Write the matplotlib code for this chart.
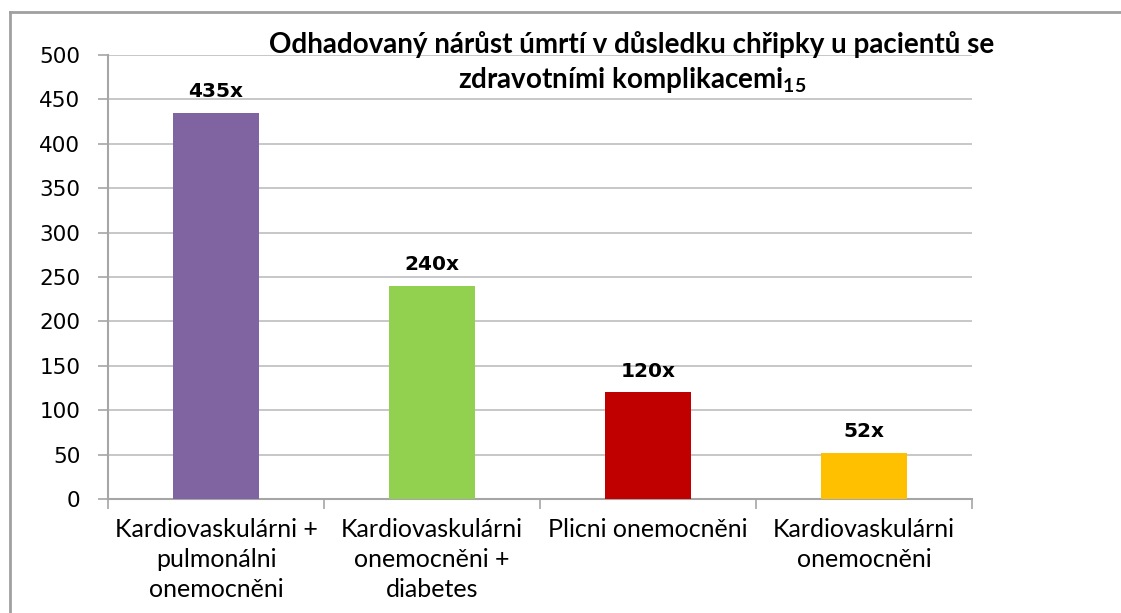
import matplotlib
matplotlib.use("Agg")
import matplotlib.pyplot as plt
from matplotlib.lines import Line2D

categories = ["Kardiovaskulárni +\npulmonálni\nonemocněni",
              "Kardiovaskulárni\nonemocněni +\ndiabetes",
              "Plicni onemocněni",
              "Kardiovaskulárni\nonemocněni"]
values = [435, 240, 120, 52]
labels = ["435x", "240x", "120x", "52x"]
colors = ["#8064A2", "#92D050", "#C00000", "#FFC000"]

plt.rcParams["mathtext.default"] = "regular"

fig = plt.figure(figsize=(11.21, 6.13), dpi=100)
ax = fig.add_axes([108/1121, 1-499/613, (972-108)/1121, (499-55)/613])

x = list(range(len(values)))
ax.bar(x, values, width=0.4, color=colors, zorder=3)
ax.set_xlim(-0.5, 3.5)
ax.set_ylim(0, 500)
ax.set_yticks(range(0, 501, 50))
ax.yaxis.grid(True, color="#BEBEBE", lw=1.2, zorder=0)

for xi, v, lab in zip(x, values, labels):
    ax.text(xi, v + 13, lab, ha="center", va="bottom", fontsize=14.5,
            fontweight="bold", family="DejaVu Sans")

for s in ["top", "right"]:
    ax.spines[s].set_visible(False)
for s in ["left", "bottom"]:
    ax.spines[s].set_color("#A6A6A6")
    ax.spines[s].set_linewidth(1.5)

ax.tick_params(axis="y", direction="out", length=7, color="#A6A6A6", width=1.2,
               labelsize=15.5, pad=13)
for t in ax.get_yticklabels():
    t.set_family("DejaVu Sans")

ax.set_xticks([-0.5, 0.5, 1.5, 2.5, 3.5])
ax.set_xticklabels([])
ax.tick_params(axis="x", direction="out", length=7, color="#A6A6A6", width=1.2)
for xi, c in zip(x, categories):
    ax.text(xi, -21, c, ha="center", va="top", fontsize=18, family="Lato",
            linespacing=1.38, transform=ax.transData, clip_on=False)

fig.text(632/1121, 1-45/613, "Odhadovaný nárůst úmrtí v důsledku chřipky u pacientů se",
         ha="center", va="center", fontsize=20, fontweight="bold", family="Lato")
fig.text(632/1121, 1-80/613, "zdravotními komplikacemi$_{15}$",
         ha="center", va="center", fontsize=20, fontweight="bold", family="Lato")

# outer chart border
fig.add_artist(Line2D([10/1121, 10/1121], [1-12/613, 0], color="#A0A0A0", lw=2,
                      transform=fig.transFigure))
fig.add_artist(Line2D([10/1121, 1], [1-12/613, 1-12/613], color="#A0A0A0", lw=2,
                      transform=fig.transFigure))

fig.savefig("out.png", dpi=100)
